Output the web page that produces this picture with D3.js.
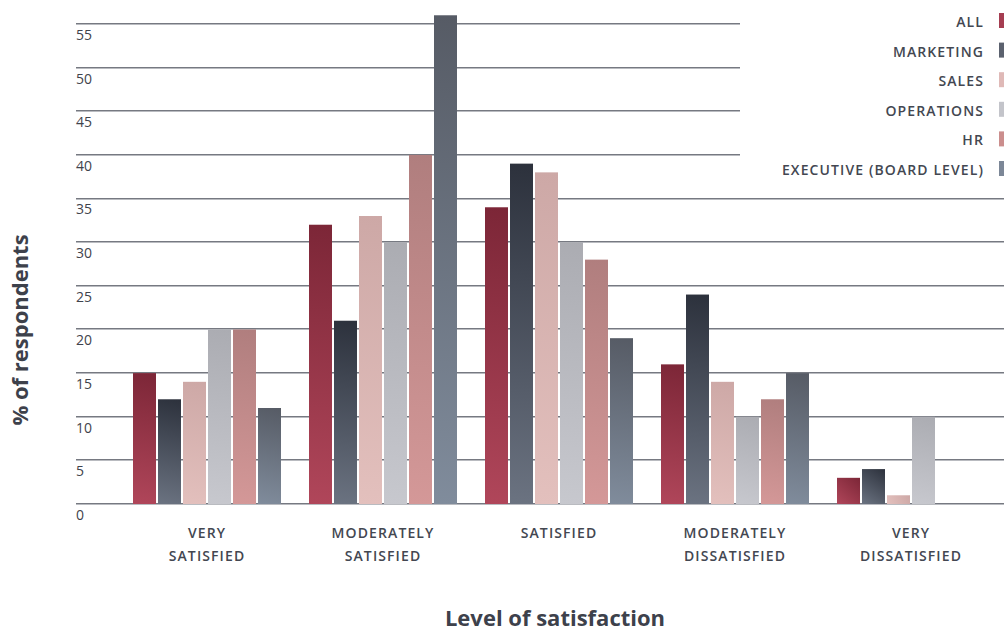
<!DOCTYPE html>
<html>
<head>
<meta charset="utf-8">
<script src="https://cdn.jsdelivr.net/npm/d3@7"></script>
<style>
  html, body { margin: 0; padding: 0; background: #fff; }
  svg { display: block; }
  text { font-family: "Open Sans", Lato, sans-serif; }
</style>
</head>
<body>
<svg id="chart" width="1004" height="633"></svg>
<script>
// Satisfaction levels (x categories, each drawn on two lines)
const categories = ["VERY SATISFIED", "MODERATELY SATISFIED", "SATISFIED", "MODERATELY DISSATISFIED", "VERY DISSATISFIED"];
const categoryLines = [["VERY", "SATISFIED"], ["MODERATELY", "SATISFIED"], ["SATISFIED"], ["MODERATELY", "DISSATISFIED"], ["VERY", "DISSATISFIED"]];

// Respondent groups
const seriesNames = ["ALL", "MARKETING", "SALES", "OPERATIONS", "HR", "EXECUTIVE (BOARD LEVEL)"];

// % of respondents per group, in category order
const allValues        = [15, 32, 34, 16, 3];
const marketingValues  = [12, 21, 39, 24, 4];
const salesValues      = [14, 33, 38, 14, 1];
const operationsValues = [20, 30, 30, 10, 10];
const hrValues         = [20, 40, 28, 12, 0];
const executiveValues  = [11, 56, 19, 15, 0];

const yTicks = [0, 5, 10, 15, 20, 25, 30, 35, 40, 45, 50, 55];

// Gradient stops per group: [dark top-right, light bottom-left], plus flat legend colour
const seriesColors = [
  { dark: "#7c2637", light: "#b0465a", flat: "#a53d51" },
  { dark: "#2c313c", light: "#6b7381", flat: "#5b616e" },
  { dark: "#cda8a6", light: "#e3c0bd", flat: "#dfb9b7" },
  { dark: "#abacb2", light: "#c7c8ce", flat: "#c3c4ca" },
  { dark: "#b07e7e", light: "#d49898", flat: "#cb8e8d" },
  { dark: "#565b65", light: "#808c9c", flat: "#7c8797" }
];

const seriesValues = [allValues, marketingValues, salesValues, operationsValues, hrValues, executiveValues];

const svg = d3.select("#chart");
const defs = svg.append("defs");

// Scales
const y = d3.scaleLinear().domain([0, 55]).range([504, 24]);

const x0 = d3.scaleBand()
  .domain(categories)
  .range([119, 999])
  .paddingInner(28 / 176)
  .paddingOuter(14 / 176);

const x1 = d3.scaleBand()
  .domain(seriesNames)
  .range([0, x0.bandwidth()])
  .paddingInner(2 / 25)
  .paddingOuter(0);

// Gridlines: upper ones stop short of the legend
const gridG = svg.append("g");
yTicks.forEach(t => {
  const yy = Math.round(y(t));
  const xEnd = t >= 40 ? 740 : 1004;
  gridG.append("line")
    .attr("x1", 76).attr("x2", xEnd)
    .attr("y1", yy - 0.5).attr("y2", yy - 0.5)
    .attr("stroke", "#767981").attr("stroke-width", 1);
  gridG.append("line")
    .attr("x1", 76).attr("x2", xEnd)
    .attr("y1", yy + 0.5).attr("y2", yy + 0.5)
    .attr("stroke", "#b9bbc0").attr("stroke-width", 1);
});

// Y tick labels sit just under each gridline
const yAxis = d3.axisLeft(y).tickValues(yTicks).tickSize(0).tickPadding(0);
const yAxisG = svg.append("g").attr("transform", "translate(76,0)").call(yAxis);
yAxisG.select(".domain").remove();
yAxisG.selectAll("text")
  .attr("text-anchor", "start")
  .attr("x", 0)
  .attr("dy", "1.1em")
  .attr("fill", "#3f434c")
  .style("font-size", "14px")
  .style("font-family", "'Open Sans', sans-serif");

// Bars, each with its own diagonal gradient running from the top-right corner to the bottom-left
const barData = [];
categories.forEach((c, ci) => {
  seriesNames.forEach((s, si) => {
    const v = seriesValues[si][ci];
    if (v > 0) barData.push({ c, s, si, v, id: `bar-${ci}-${si}` });
  });
});

barData.forEach(d => {
  const bx = x0(d.c) + x1(d.s);
  const g = defs.append("linearGradient")
    .attr("id", d.id)
    .attr("gradientUnits", "userSpaceOnUse")
    .attr("x1", bx + x1.bandwidth()).attr("y1", y(d.v))
    .attr("x2", bx).attr("y2", y(0));
  g.append("stop").attr("offset", "0%").attr("stop-color", seriesColors[d.si].dark);
  g.append("stop").attr("offset", "100%").attr("stop-color", seriesColors[d.si].light);
});

svg.append("g").selectAll("rect")
  .data(barData)
  .join("rect")
  .attr("x", d => x0(d.c) + x1(d.s))
  .attr("width", x1.bandwidth())
  .attr("y", d => y(d.v))
  .attr("height", d => y(0) - y(d.v))
  .attr("fill", d => `url(#${d.id})`);

// Category labels
const xLab = svg.append("g");
categories.forEach((c, i) => {
  const cx = x0(c) + x0.bandwidth() / 2;
  const t = xLab.append("text")
    .attr("x", cx)
    .attr("y", 538)
    .attr("text-anchor", "middle")
    .attr("fill", "#434751")
    .style("font-size", "14px")
    .style("font-weight", "600")
    .style("letter-spacing", "1.1px");
  categoryLines[i].forEach((line, li) => {
    t.append("tspan").attr("x", cx).attr("dy", li === 0 ? 0 : 23).text(line);
  });
});

// Axis titles
svg.append("text")
  .attr("x", 555).attr("y", 626)
  .attr("text-anchor", "middle")
  .attr("fill", "#3d414b")
  .style("font-size", "22px")
  .style("font-weight", "bold")
  .text("Level of satisfaction");

svg.append("text")
  .attr("transform", "translate(28,330) rotate(-90)")
  .attr("text-anchor", "middle")
  .attr("fill", "#3d414b")
  .style("font-size", "22px")
  .style("font-weight", "bold")
  .text("% of respondents");

// Legend, right aligned with swatches at the edge
const legend = svg.append("g").selectAll("g")
  .data(seriesNames)
  .join("g")
  .attr("transform", (d, i) => `translate(0,${27 + i * 29.6})`);

legend.append("text")
  .attr("x", 984).attr("y", 0)
  .attr("text-anchor", "end")
  .attr("fill", "#434751")
  .style("font-size", "14px")
  .style("font-weight", "600")
  .style("letter-spacing", "1.1px")
  .text(d => d);

legend.append("rect")
  .attr("x", 999).attr("y", -14)
  .attr("width", 8).attr("height", 15)
  .attr("fill", (d, i) => seriesColors[i].flat);
</script>
</body>
</html>
